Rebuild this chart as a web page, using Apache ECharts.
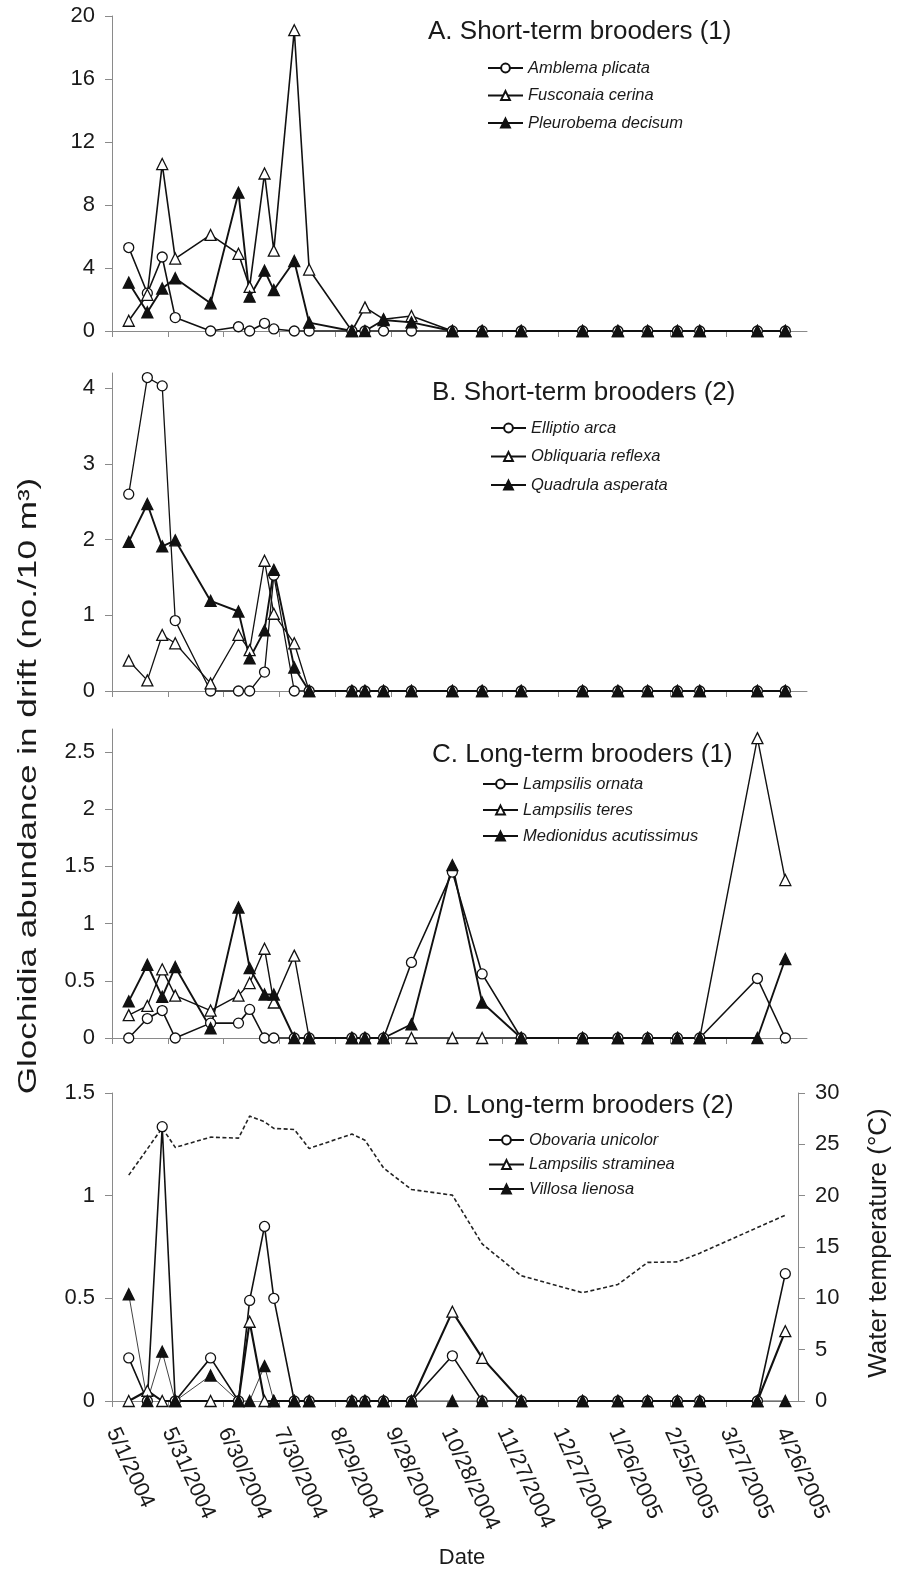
<!DOCTYPE html>
<html><head><meta charset="utf-8">
<script src="https://cdn.jsdelivr.net/npm/echarts@6/dist/echarts.min.js"></script>
<style>html,body{margin:0;padding:0;background:#fff}#c{width:898px;height:1581px}</style>
</head><body><div id="c"></div>
<script>
// ---- data ----
const sampleDates = ['5/10/2004','5/20/2004','5/28/2004','6/4/2004','6/23/2004','7/8/2004','7/14/2004','7/22/2004','7/27/2004','8/7/2004','8/15/2004','9/7/2004','9/14/2004','9/24/2004','10/9/2004','10/31/2004','11/16/2004','12/7/2004','1/9/2005','1/28/2005','2/13/2005','3/1/2005','3/13/2005','4/13/2005','4/28/2005'];
const tickLabels = ['5/1/2004','5/31/2004','6/30/2004','7/30/2004','8/29/2004','9/28/2004','10/28/2004','11/27/2004','12/27/2004','1/26/2005','2/25/2005','3/27/2005','4/26/2005'];
// A. Short-term brooders (1)
const amblemaPlicata    = [5.3,2.4,4.7,0.85,0,0.27,0,0.49,0.13,0,0,0,0,0,0,0,0,0,0,0,0,0,0,0,0];
const fusconaiaCerina   = [0.65,2.3,10.6,4.6,6.1,4.9,2.8,10.0,5.1,19.1,3.9,0,1.5,0.75,0.95,0,0,0,0,0,0,0,0,0,0];
const pleurobemaDecisum = [3.07,1.19,2.7,3.35,1.76,8.78,2.18,3.83,2.6,4.44,0.53,0,0,0.7,0.55,0,0,0,0,0,0,0,0,0,0];
// B. Short-term brooders (2)
const ellipticArca      = [2.6,4.14,4.03,0.93,0,0,0,0.25,1.53,0,0,0,0,0,0,0,0,0,0,0,0,0,0,0,0];
const obliquariaReflexa = [0.4,0.14,0.74,0.63,0.1,0.74,0.54,1.72,1.02,0.63,0,0,0,0,0,0,0,0,0,0,0,0,0,0,0];
const quadrulaAsperata  = [1.97,2.47,1.91,1.99,1.19,1.05,0.43,0.8,1.6,0.31,0,0,0,0,0,0,0,0,0,0,0,0,0,0,0];
// C. Long-term brooders (1)
const lampsilisOrnata   = [0,0.17,0.24,0,0.13,0.13,0.25,0,0,0,0,0,0,0,0.66,1.45,0.56,0,0,0,0,0,0,0.52,0];
const lampsilisTeres    = [0.2,0.28,0.6,0.37,0.24,0.37,0.48,0.78,0.31,0.72,0,0,0,0,0,0,0,0,0,0,0,0,0,2.62,1.38];
const medionidusAcut    = [0.32,0.64,0.36,0.62,0.085,1.14,0.61,0.38,0.38,0,0,0,0,0,0.12,1.51,0.31,0,0,0,0,0,0,0,0.69];
// D. Long-term brooders (2)
const obovariaUnicolor  = [0.21,0,1.336,0,0.21,0,0.49,0.85,0.5,0,0,0,0,0,0,0.22,0,0,0,0,0,0,0,0,0.62];
const lampsilisStraminea= [0,0.05,0,0,0,0,0.386,0,0,0,0,0,0,0,0,0.435,0.21,0,0,0,0,0,0,0,0.34];
const villosaLienosa    = [0.52,0,0.24,0,0.124,0,0,0.17,0,0,0,0,0,0,0,0,0,0,0,0,0,0,0,0,0];
const waterTemp         = [22.0,null,26.6,24.7,25.7,25.6,27.75,27.2,26.55,26.45,24.6,26.0,25.4,22.7,20.6,20.05,15.3,12.2,10.55,11.35,13.5,13.55,14.4,null,18.1];

// ---- helpers ----
const FONT = 'Liberation Sans, Arial, Helvetica, sans-serif';
const ORIGIN = Date.UTC(2004,4,1);
function dayOf(s){const p=s.split('/').map(Number);return (Date.UTC(p[2],p[0]-1,p[1])-ORIGIN)/86400000;}
const days = sampleDates.map(dayOf);
function pairs(vals){return vals.map((v,i)=>[days[i],v]).filter(p=>p[1]!=null);}
const tickDays = tickLabels.map(dayOf);
const PX_PER_DAY = 1.86;

const grids = [
  {left:112, top:16,   width:695, height:315},
  {left:112, top:373,  width:695, height:318},
  {left:112, top:729,  width:695, height:309},
  {left:112, top:1093, width:686, height:308}
];
const AX = '#8a8a8a', TXT = '#1a1a1a';

const xAxes = grids.map((g,i)=>({
  type:'value', gridIndex:i, min:0, max:g.width/PX_PER_DAY,
  axisLine:{show:true, onZero:false, lineStyle:{color:AX,width:1}},
  axisTick:{show:true, length:6, customValues:tickDays, lineStyle:{color:AX}},
  splitLine:{show:false},
  axisLabel: i===3 ? {show:true, customValues:tickDays, rotate:-65, margin:28, fontSize:22, fontFamily:FONT, color:TXT,
      formatter:v=>{const k=tickDays.indexOf(Math.round(v));return k>=0?tickLabels[k]:'';}} : {show:false}
}));

function yAx(i, max, ticks, pos){
  return {type:'value', gridIndex:i, min:0, max:max, position:pos||'left',
    axisLine:{show:true, lineStyle:{color:AX,width:1}},
    axisTick:{show:true, length:7, customValues:ticks, lineStyle:{color:AX}},
    splitLine:{show:false},
    axisLabel:{customValues:ticks, margin:17, fontSize:22, fontFamily:FONT, color:TXT, formatter:v=>String(+v.toFixed(2))}
  };
}
const yAxes = [
  yAx(0,20,[0,4,8,12,16,20]),
  yAx(1,4.2,[0,1,2,3,4]),
  yAx(2,2.7,[0,0.5,1,1.5,2,2.5]),
  yAx(3,1.5,[0,0.5,1,1.5]),
  yAx(3,30,[0,5,10,15,20,25,30],'right')
];

function ser(name, vals, kind, xi, yi, lw){
  const filled = kind==='tri';
  return {type:'line', name, data:pairs(vals), xAxisIndex:xi, yAxisIndex:yi,
    symbol: kind==='circle'?'circle':'triangle', symbolSize: kind==='circle'?10:11,
    showSymbol:true, lineStyle:{color:'#111', width:lw||1.6},
    itemStyle:{color: filled?'#111':'#fff', borderColor:'#111', borderWidth:1.3},
    emphasis:{disabled:true}, animation:false};
}
const series = [
  ser('Amblema plicata', amblemaPlicata, 'circle',0,0),
  ser('Fusconaia cerina', fusconaiaCerina, 'otri',0,0),
  ser('Pleurobema decisum', pleurobemaDecisum, 'tri',0,0,1.9),
  ser('Elliptio arca', ellipticArca, 'circle',1,1,1.3),
  ser('Obliquaria reflexa', obliquariaReflexa, 'otri',1,1,1.3),
  ser('Quadrula asperata', quadrulaAsperata, 'tri',1,1,1.9),
  ser('Lampsilis ornata', lampsilisOrnata, 'circle',2,2,1.6),
  ser('Lampsilis teres', lampsilisTeres, 'otri',2,2,1.4),
  ser('Medionidus acutissimus', medionidusAcut, 'tri',2,2,1.9),
  {type:'line', name:'Water temperature', data:pairs(waterTemp), xAxisIndex:3, yAxisIndex:4, symbol:'none', connectNulls:true,
   lineStyle:{color:'#222', width:1.6, type:[4,2.5]}, emphasis:{disabled:true}, animation:false},
  ser('Obovaria unicolor', obovariaUnicolor, 'circle',3,3,1.6),
  ser('Lampsilis straminea', lampsilisStraminea, 'otri',3,3,2.1),
  ser('Villosa lienosa', villosaLienosa, 'tri',3,3,0.8)
];

function leg(names, left, top, gap){
  return {data:names, orient:'vertical', left, top, itemGap:gap, itemWidth:35, itemHeight:11, selectedMode:false,
    textStyle:{fontSize:16.5, fontStyle:'italic', fontFamily:FONT, color:TXT, lineHeight:18}};
}
const legends = [
  leg(['Amblema plicata','Fusconaia cerina','Pleurobema decisum'],482,54,9.5),
  leg(['Elliptio arca','Obliquaria reflexa','Quadrula asperata'],485,414,10.5),
  leg(['Lampsilis ornata','Lampsilis teres','Medionidus acutissimus'],477,770,8),
  leg(['Obovaria unicolor','Lampsilis straminea','Villosa lienosa'],483,1126,6.5)
];

function txt(text, x, y, size, rot, align, sx){
  return {type:'text', x, y, rotation:rot||0, scaleX:sx||1, silent:true,
    style:{text, fontSize:size, fontFamily:FONT, fill:TXT, align:align||'left', verticalAlign:'middle',
           textAlign:align||'left', textVerticalAlign:'middle'}};
}
const graphics = [
  txt('A. Short-term brooders (1)',428,32,26),
  txt('B. Short-term brooders (2)',432,393,26),
  txt('C. Long-term brooders (1)',432,755,26),
  txt('D. Long-term brooders (2)',433,1106,26),
  txt('Glochidia abundance in drift (no./10 m³)',29,786,26,Math.PI/2,'center',1.35),
  txt('Water temperature (°C)',879,1243,26,Math.PI/2,'center'),
  txt('Date',462,1558,22,0,'center')
];

const chart = echarts.init(document.getElementById('c'), null, {renderer:'canvas'});
chart.setOption({
  animation:false, backgroundColor:'#fff',
  grid:grids, xAxis:xAxes, yAxis:yAxes, legend:legends, series, graphic:graphics
});
</script></body></html>
